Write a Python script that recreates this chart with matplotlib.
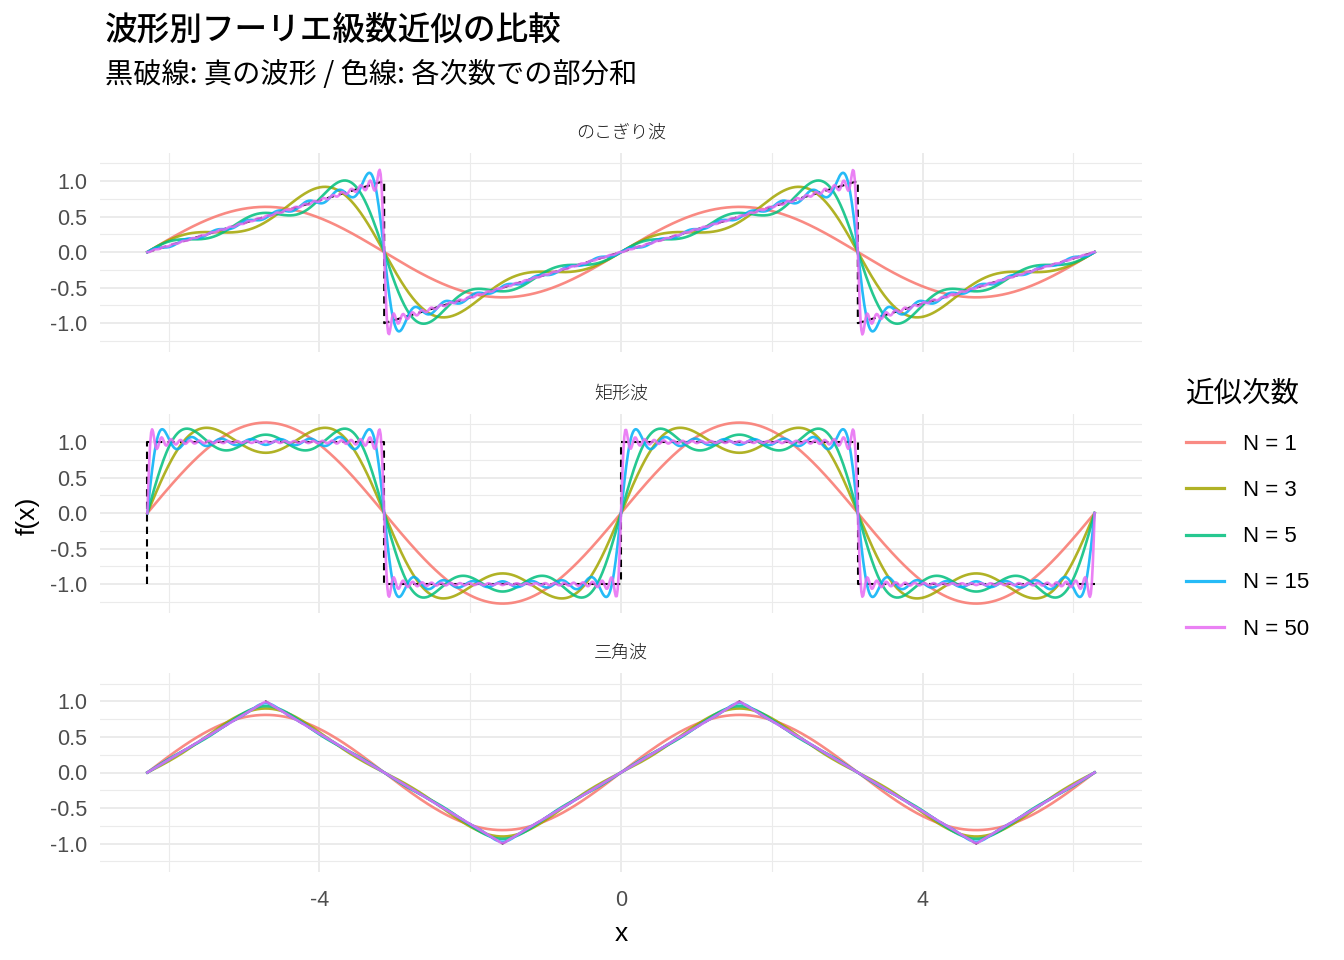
import matplotlib
matplotlib.use('Agg')
import matplotlib.pyplot as plt
import numpy as np

plt.rcParams['font.family'] = ['Liberation Sans', 'Noto Sans CJK JP', 'DejaVu Sans']
plt.rcParams['axes.unicode_minus'] = False
CJK = ['Noto Sans CJK JP', 'DejaVu Sans']

# --- data ---
waveNames = ['のこぎり波', '矩形波', '三角波']
orders = [1, 3, 5, 15, 50]
orderLabels = ['N = 1', 'N = 3', 'N = 5', 'N = 15', 'N = 50']
colors = ['#F8766D', '#A3A500', '#00BF7D', '#00B0F6', '#E76BF3']
xMin, xMax = -2 * np.pi, 2 * np.pi
nSamples = 1000

# true waveforms as breakpoints (x in units of pi)
sawX = [-2, -1, -1, 1, 1, 2]
sawY = [0, 1, -1, 1, -1, 0]
sqX = [-2, -2, -1, -1, 0, 0, 1, 1, 2]
sqY = [-1, 1, 1, -1, -1, 1, 1, -1, -1]
triX = [-2, -1.5, -0.5, 0.5, 1.5, 2]
triY = [0, 1, -1, 1, -1, 0]
trueX = [sawX, sqX, triX]
trueY = [sawY, sqY, triY]

yTicks = [-1.0, -0.5, 0.0, 0.5, 1.0]
yTickLabels = ['-1.0', '-0.5', '0.0', '0.5', '1.0']
xTicks = [-4, 0, 4]


# fourier partial sums up to harmonic n
def partialSum(kind, x, n):
        y = np.zeros_like(x)
        for k in range(1, n + 1):
                if kind == 0:
                        y += 2 / np.pi * (-1) ** (k + 1) * np.sin(k * x) / k
                elif kind == 1 and k % 2 == 1:
                        y += 4 / np.pi * np.sin(k * x) / k
                elif kind == 2 and k % 2 == 1:
                        y += 8 / np.pi ** 2 * (-1) ** ((k - 1) // 2) * np.sin(k * x) / k ** 2
        return y


x = np.linspace(xMin, xMax, nSamples)

fig = plt.figure(figsize=(13.44, 9.6), dpi=100)
left, width, height = 100 / 1344, 1042 / 1344, 199 / 960
bottoms = [1 - 351.6 / 960, 1 - 612.6 / 960, 1 - 872 / 960]

axes = []
for i, name in enumerate(waveNames):
        ax = fig.add_axes([left, bottoms[i], width, height])
        axes.append(ax)
        ax.plot(np.array(trueX[i]) * np.pi, trueY[i], color='black', lw=1.5,
                linestyle=(0, (3.5, 2.5)), zorder=2)
        for n, c, lab in zip(orders, colors, orderLabels):
                ax.plot(x, partialSum(i, x, n), color=c, lw=1.9, alpha=0.85, label=lab, zorder=3)
        ax.set_xlim(-2 * np.pi * 1.1, 2 * np.pi * 1.1)
        ax.set_ylim(-1.4, 1.4)
        ax.set_yticks(yTicks)
        ax.set_yticklabels(yTickLabels)
        ax.set_yticks([-1.25, -0.75, -0.25, 0.25, 0.75, 1.25], minor=True)
        ax.set_xticks(xTicks)
        ax.set_xticks([-6, -2, 2, 6], minor=True)
        ax.grid(which='major', color='#EBEBEB', lw=1.4)
        ax.grid(which='minor', color='#EBEBEB', lw=0.8)
        ax.set_axisbelow(True)
        for s in ax.spines.values():
                s.set_visible(False)
        ax.tick_params(which='both', length=0, labelsize=15.5, labelcolor='#4D4D4D', pad=9)
        if i < 2:
                ax.tick_params(axis='x', labelbottom=False)
        ax.set_title(name, family=CJK, fontsize=13, color='#1A1A1A', pad=11, fontweight='light')

axes[2].tick_params(axis='x', pad=13)
axes[2].set_xlabel('x', fontsize=19, labelpad=8)
fig.text(28 / 1344, 1 - 516 / 960, 'f(x)', fontsize=19, rotation=90, ha='center', va='center')

fig.text(105 / 1344, 1 - 30 / 960, '波形別フーリエ級数近似の比較', family=CJK, fontsize=23.5,
         fontweight='medium', ha='left', va='center')
fig.text(105 / 1344, 1 - 75 / 960, '黒破線: 真の波形 / 色線: 各次数での部分和', family=CJK, fontsize=20.3,
         ha='left', va='center')

handles, labels = axes[0].get_legend_handles_labels()
leg = fig.legend(handles, labels, loc='upper left', bbox_to_anchor=(1166 / 1344, 1 - 359 / 960),
                 frameon=False, fontsize=16, handlelength=1.7, handletextpad=0.85,
                 labelspacing=1.13, title='近似次数')
leg.get_title().set_fontfamily(CJK)
leg.get_title().set_fontsize(20.5)
leg._legend_box.align = 'left'
for line in leg.get_lines():
        line.set_linewidth(2.3)

fig.savefig('out.png', dpi=100)
